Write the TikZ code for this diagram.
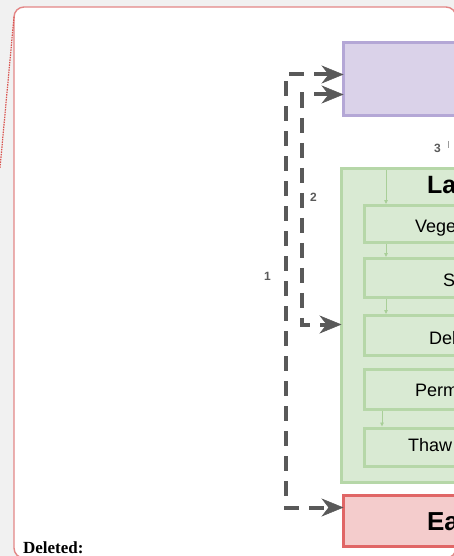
\documentclass[tikz,border=0pt]{standalone}
\usepackage{fontspec}
\setmainfont{Liberation Sans}
\newfontfamily\delfont{Liberation Serif}
\usetikzlibrary{arrows.meta,calc}
\definecolor{pfill}{HTML}{DAD2E9}
\definecolor{pborder}{HTML}{B4A7D6}
\definecolor{gfill}{HTML}{D9EAD3}
\definecolor{gborder}{HTML}{B6D7A8}
\definecolor{rfill}{HTML}{F4CCCC}
\definecolor{rborder}{HTML}{E06666}
\definecolor{arrowgray}{HTML}{595959}
\definecolor{garrow}{HTML}{A9CF98}
\definecolor{lblgray}{HTML}{5A5A5A}
\definecolor{bggray}{HTML}{F1F1F1}
\definecolor{framered}{HTML}{E38686}
\definecolor{dotred}{HTML}{D9534F}
\begin{document}
\begin{tikzpicture}[x=1pt,y=-1pt,
  box/.style={draw, line width=3pt, outer sep=0pt, inner sep=0pt, anchor=north west},
  pbox/.style={box, draw=pborder, fill=pfill},
  gbox/.style={box, draw=gborder, fill=gfill},
  rbox/.style={box, draw=rborder, fill=rfill},
  txt/.style={anchor=base west, inner sep=0pt, outer sep=0pt},
  conn/.style={draw=arrowgray, line width=4pt, dash pattern=on 15pt off 10pt,
    {Stealth[length=22pt,width=18pt,inset=7pt,line width=0.5pt]}-{Stealth[length=22pt,width=18pt,inset=7pt,line width=0.5pt]}},
  innerarrow/.style={draw=garrow, line width=0.8pt, -{Triangle[length=4pt,width=3.5pt]}},
  lbl/.style={txt, text=lblgray, font=\fontsize{12}{14}\selectfont\bfseries},
  body/.style={txt, font=\fontsize{18}{21}\selectfont}
]
\useasboundingbox (0,0) rectangle (454,556);
\clip (0,0) rectangle (454,556);
\fill[bggray] (0,0) rectangle (454,556);
% frame
\draw[framered, line width=1.4pt, fill=white, rounded corners=10pt] (14,7) rectangle (456,558);
\coordinate (dA) at (14,17);
\coordinate (dB) at (0,168);
\draw[dotred, line width=1.2pt, dash pattern=on 1.5pt off 1pt] (dA) -- (dB);

% boxes
\node[pbox, minimum width=200pt, minimum height=73pt] (purple) at (343.5,42.5) {};
\node[gbox, minimum width=200pt, minimum height=314pt] (green) at (341.5,168.5) {};
\node[gbox, minimum width=200pt, minimum height=37pt] (b1) at (364.5,205.5) {};
\node[gbox, minimum width=200pt, minimum height=38.5pt] (b2) at (364.5,258.5) {};
\node[gbox, minimum width=200pt, minimum height=39.5pt] (b3) at (364.5,315.5) {};
\node[gbox, minimum width=200pt, minimum height=40pt] (b4) at (364.5,369) {};
\node[gbox, minimum width=200pt, minimum height=38.5pt] (b5) at (364.5,428) {};
\node[rbox, minimum width=200pt, minimum height=51pt] (red) at (343.5,495.5) {};

% texts
\node[txt, font=\fontsize{25}{30}\selectfont\bfseries] (tLa) at (427,193) {Land surface};
\node[body] (t1) at (415,232) {Vegetation};
\node[body] (t2) at (443,286) {Snow};
\node[body] (t3) at (429,344) {Debris};
\node[body] (t4) at (415,396) {Permafrost};
\node[body] (t5) at (408,451) {Thaw lakes};
\node[txt, font=\fontsize{26}{31}\selectfont\bfseries] (tEa) at (427,530) {Earth};
\node[lbl] (l3) at (434,153) {3};
\node[lbl] (l1) at (264,280) {1};
\node[lbl] (l2) at (310,201) {2};
\node[txt, font=\delfont\fontsize{17}{20}\selectfont\bfseries] (del) at (23,553) {Deleted:};

% inner arrows
\draw[innerarrow] ($(green.north west)+(44.5,1.5)$) -- ($(b1.north west)+(21.5,-1.5)$);
\draw[innerarrow] ($(b1.south west)+(21.5,1.5)$) -- ($(b2.north west)+(21.5,-1.5)$);
\draw[innerarrow] ($(b2.south west)+(21.5,1.5)$) -- ($(b3.north west)+(21.5,-1.5)$);
\draw[innerarrow] ($(b4.south west)+(17.5,1.5)$) -- ($(b5.north west)+(17.5,-1.5)$);

% connector 3 fragment
\coordinate (c3a) at (448,141);
\coordinate (c3b) at (448,148);
\draw[lblgray!60, line width=1pt] (c3a) -- (c3b);

% dashed connectors
\draw[conn] ($(purple.north west)+(0,32)$) -- ++(-58,0) |- ($(red.north west)+(0,12)$);
\draw[conn] ($(purple.north west)+(0,52)$) -- ++(-41.5,0) |- ($(green.north west)+(0,156)$);
\end{tikzpicture}
\end{document}
